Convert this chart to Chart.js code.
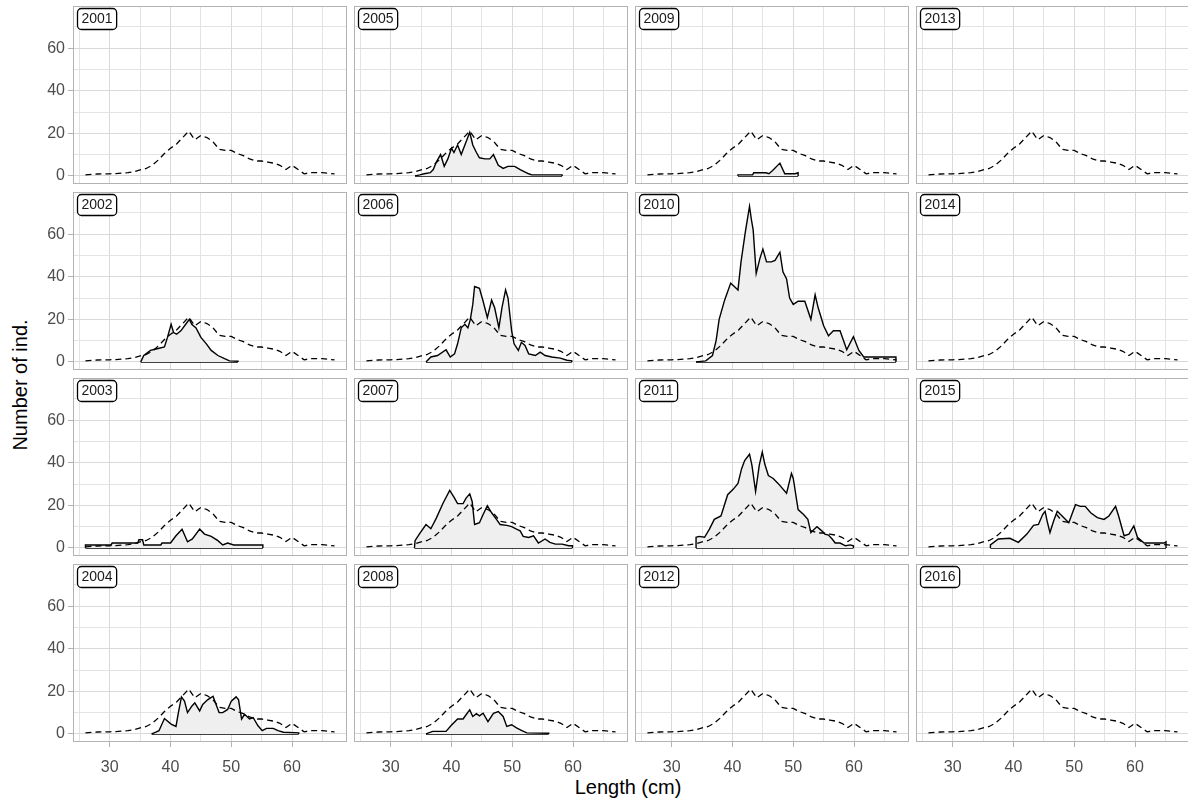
<!DOCTYPE html>
<html>
<head>
<meta charset="utf-8">
<script src="https://cdn.jsdelivr.net/npm/chart.js@4.4.1/dist/chart.umd.min.js"></script>
<style>
html,body{margin:0;padding:0;background:#fff;width:1188px;height:800px;overflow:hidden;}
body{position:relative;font-family:"Liberation Sans",Arial,sans-serif;}
.title{position:absolute;color:#000;font-size:20px;line-height:24px;white-space:nowrap;}
.wrap{position:absolute;overflow:hidden;}
</style>
</head>
<body>
<div class="title" id="xtitle" style="left:528px;width:200px;top:775px;text-align:center;">Length (cm)</div>
<div class="title" id="ytitle" style="left:20px;top:385px;transform:translate(-50%,-50%) rotate(-90deg);">Number of ind.</div>
<script>
// ---------- DATA ----------
const panelYears = [2001,2002,2003,2004,2005,2006,2007,2008,2009,2010,2011,2012,2013,2014,2015,2016];
const xTickValues = [25,30,35,40,45,50,55,60,65];
const yTickValues = [0,10,20,30,40,50,60,70];

// dashed reference distribution (same in every panel)
const refLength = [26,27,28,29,30,31,32,33,34,35,36,37,38,39,40,41,42,43,44,45,46,47,48,49,50,51,52,53,54,55,56,57,58,59,60,61,62,63,64,65,66,67];
const refCount  = [0.5,0.7,0.9,1,1,1.1,1.3,1.5,2,2.8,3.5,5,7.5,10.5,13,15,18,21,17,19,18,16,12.5,12,12,10.5,9.5,8,7,7,6.5,6,5,3,5,3,1,1.5,1.5,1.5,1.2,1];

const len2001 = [], num2001 = [];
const len2002 = [35.1,35.6,36.7,37.8,39,39.5,40.1,40.5,41,41.7,42.5,43.1,43.5,44.2,45,45.9,46.7,47.8,48.9,49.7,51.1];
const num2002 = [0,3,5.4,6.2,7,11.5,17.7,13.8,13,14.6,17.7,20,17.7,16,11.5,8.5,5.4,3,1.5,0.5,0.3];
const len2003 = [26,30.2,30.4,34.6,34.8,35.4,35.6,38.4,38.6,40,40.9,41.9,42.8,43.6,44.8,45.6,46.7,47.8,48.6,49.4,50.4,55.2];
const num2003 = [1.4,1.4,2.3,2.3,3.8,3.8,1.4,1.4,2.3,2.3,5.7,8.8,2.9,4.2,8.8,6.5,5.4,3.4,1.4,2.3,1.4,1.4];
const len2004 = [36.9,37.6,38.1,39,40.1,40.9,41.3,41.8,42.3,42.8,43.5,44,44.8,45.3,46.1,47,47.5,48,48.6,49.4,50,50.8,51.2,51.7,52.2,53,53.6,54.4,55.1,55.8,56.9,57.7,58.6,61.1];
const num2004 = [0,0.8,1.5,7.2,4.6,3.5,10,17.4,15.4,10,13,14.6,10.8,13.8,16,17.7,13.8,10,10,11.5,15.4,17.4,16,7,9.2,7,7.7,3.8,1.5,2.6,2.6,1.5,0.8,0.5];
const len2005 = [34,34.8,35.5,36.5,37,37.5,38.2,38.8,39.4,40,40.4,41,41.6,42.2,43,43.5,44.1,44.6,45.5,46.3,46.9,47.7,48.5,49.3,50.4,51.3,52.7,53.2,58.2];
const num2005 = [0,0.5,1,1.5,3,6.5,10,4.5,8,13,11,14.5,10,14.5,20.5,14.5,11,8.5,8,8,10,5,3.5,4.5,4.5,3,1,0.5,0.5];
const len2006 = [35.8,36.6,37.7,39.1,39.8,40.5,41,41.6,42.2,42.7,43.1,43.5,43.8,44.6,45.2,45.9,46.6,47.1,47.8,48.3,48.9,49.3,49.9,50.3,51,51.5,52.1,52.7,53.8,54.6,55.4,56.5,57.9,59,59.8];
const num2006 = [0,2.3,3,5.7,2.3,3.8,8.5,16,17.7,16,20,27,35.4,34.6,28.5,20.8,29,25.4,16,25.4,33.8,30,14.6,8.5,5.4,9.2,7.7,3.8,3,4.6,3,2.3,1.8,0.8,0.5];
const len2007 = [33.9,34,34.7,35.8,36.6,37.5,38.6,39.7,40.5,41,41.9,42.4,43,43.4,43.8,44.6,45.2,45.9,46.6,47.4,48,49.1,49.9,50.7,51.3,51.8,52.7,53.5,54.3,55.4,56.2,57.1,58.2,59.3,59.9];
const num2007 = [0,3.4,6.5,11,9,14,21,27,23.4,20.8,20.8,23.4,25.4,21.8,11,11.8,15.7,19.8,16.5,13.4,11,10.6,10,8.8,8,5.4,4.9,5.7,2.3,4.2,2.6,1.8,1.8,1,1];
const len2008 = [35.8,36.9,39.1,39.9,41,41.9,42.4,43,43.5,44.1,44.6,45.2,46,46.9,47.7,48.5,49.1,49.9,50.7,51.5,52.4,56];
const num2008 = [0,1.2,1.2,3.8,7,7,9,11.3,8.2,9.5,8.5,9.7,5.8,9.7,10.5,8.2,3.5,4.3,2.8,1.7,0.5,0.3];
const len2009 = [40.9,43.3,43.5,45.5,46,46.6,47.8,48.6,50.3,50.8];
const num2009 = [0.5,0.5,1.5,1.5,1,2.5,6,1,1,1.5];
const len2010 = [34,35.6,36.7,37.3,37.8,38.7,39.7,40.3,40.9,41.4,42.1,42.8,43.1,43.4,43.9,44.5,45,45.6,46.4,47,47.8,48.3,48.9,49.4,50,50.8,51.9,52.9,53.6,54.1,55,55.8,56.6,57.7,58.8,59.9,60.8,61.6,66.9];
const num2010 = [0,0.5,3,10,20,29,37,35.4,33.8,47,60.8,73,67,62,41.5,48.5,53,47,47,47.7,51.5,42.3,39,30,27,28.5,28.5,20,31.5,25.4,17,12.3,14.6,14.6,5.7,11.8,5.4,2.3,2.3];
const len2011 = [34,34.5,35.4,36.2,37,38.1,39.2,40.1,40.9,41.5,42,42.8,43.2,43.8,44.4,44.9,45.3,45.9,46.7,47.5,48.9,49.7,50,50.8,51.7,52.4,52.9,53.9,54.7,55.2,55.8,56.4,56.9,57.7,58.6,59.4,59.9];
const num2011 = [5,5.4,5,8.8,13.4,15,25,27.5,30.3,37.2,41,44,38.8,26.5,38.8,45,39.5,34,32.6,30.3,25.7,35,32.6,18,15.7,13.4,7.2,10,8,6.5,6,4.2,2.3,2.3,1,1.4,1];
const len2012 = [], num2012 = [];
const len2013 = [], num2013 = [];
const len2014 = [], num2014 = [];
const len2015 = [36.2,37.5,39.4,40.8,42.2,43.3,44.1,44.8,45.2,45.6,46,46.6,47.2,48,49.1,50.2,51,51.8,52.7,53.8,54.9,55.7,56.8,57.3,58.2,59,59.8,60.4,61.5,64.8,65.1];
const num2015 = [1.4,4.2,4.5,2.6,6.5,10.6,11,15.7,17.2,11.8,7.2,12.6,17.2,15,11.8,20.3,19.5,19.5,16.5,14.2,13.4,15,19.5,15,5.7,6.5,10.3,5,2.3,2.3,2.9];
const len2016 = [], num2016 = [];

const yearData = {
  2001:[len2001,num2001],2002:[len2002,num2002],2003:[len2003,num2003],2004:[len2004,num2004],
  2005:[len2005,num2005],2006:[len2006,num2006],2007:[len2007,num2007],2008:[len2008,num2008],
  2009:[len2009,num2009],2010:[len2010,num2010],2011:[len2011,num2011],2012:[len2012,num2012],
  2013:[len2013,num2013],2014:[len2014,num2014],2015:[len2015,num2015],2016:[len2016,num2016]
};

// ---------- LAYOUT ----------
const PAGE_W = 1188;
const PW = 274, PH = 178;
const colLeft = [73, 354, 635, 916];
const rowTop = [6, 192, 378, 564];
const yAxisW = 60, xAxisH = 45;
const X_MIN = 23.95, X_MAX = 69.05, Y_MIN = -3.8, Y_MAX = 79.8;
const FONT = '"Liberation Sans", Arial, sans-serif';

const panelDecor = {
  id: 'panelDecor',
  afterDatasetsDraw(chart) {
    const {ctx, chartArea: a} = chart;
    ctx.save();
    ctx.strokeStyle = '#b3b3b3';
    ctx.lineWidth = 1;
    ctx.strokeRect(a.left + 0.5, a.top + 0.5, a.right - a.left - 1, a.bottom - a.top - 1);
    ctx.restore();
  },
  afterDraw(chart, args, opts) {
    const {ctx, chartArea: a} = chart;
    ctx.save();
    ctx.font = '14px ' + FONT;
    const tw = ctx.measureText(opts.text).width;
    const x = a.left + 4, y = a.top + 2, w = tw + 8, h = 21;
    ctx.beginPath();
    ctx.roundRect(x + 0.5, y + 0.5, w, h, 4);
    ctx.fillStyle = '#fff';
    ctx.fill();
    ctx.lineWidth = 1.3;
    ctx.strokeStyle = '#000';
    ctx.stroke();
    ctx.fillStyle = '#1a1a1a';
    ctx.textBaseline = 'middle';
    ctx.fillText(opts.text, x + 4.5, y + h / 2 + 1);
    ctx.restore();
  }
};

function makePanel(year, col, row) {
  const showY = col === 0, showX = row === 3;
  const wy = showY ? yAxisW : 0, hx = showX ? xAxisH : 0;
  const left = colLeft[col] - wy, top = rowTop[row];
  const cw = PW + wy, ch = PH + hx;
  const wrap = document.createElement('div');
  wrap.className = 'wrap';
  wrap.style.cssText = `left:${left}px;top:${top}px;width:${Math.min(cw, PAGE_W - left)}px;height:${ch}px;`;
  const cv = document.createElement('canvas');
  cv.width = cw; cv.height = ch;
  cv.style.cssText = `display:block;width:${cw}px;height:${ch}px;`;
  wrap.appendChild(cv);
  document.body.appendChild(wrap);

  const [lens, nums] = yearData[year];
  const datasets = [{
    data: refLength.map((x, k) => ({x, y: refCount[k]})),
    borderColor: '#000', borderWidth: 1.3, borderDash: [6, 4],
    fill: false, pointRadius: 0, order: 0
  }];
  if (lens.length) {
    const pts = [{x: lens[0], y: 0}].concat(lens.map((x, k) => ({x, y: nums[k]})), [{x: lens[lens.length-1], y: 0}]);
    datasets.push({
      data: pts, borderColor: '#000', borderWidth: 1.4,
      backgroundColor: '#efefef', fill: 'origin', pointRadius: 0, order: 1
    });
    datasets.push({
      data: [{x: lens[0], y: 0}, {x: lens[lens.length-1], y: 0}],
      borderColor: '#000', borderWidth: 1.5, fill: false, pointRadius: 0, order: 1
    });
  }

  const gridColor = c => (c.tick && c.tick.value % (c.scale.axis === 'x' ? 10 : 20) === 0) ? '#d9d9d9' : '#e3e3e3';
  new Chart(cv, {
    type: 'line',
    data: {datasets},
    plugins: [panelDecor],
    options: {
      responsive: false, animation: false, devicePixelRatio: 1,
      layout: {padding: 0},
      elements: {line: {tension: 0}, point: {radius: 0}},
      plugins: {legend: {display: false}, tooltip: {enabled: false}, panelDecor: {text: String(year)}},
      scales: {
        x: {
          type: 'linear', min: X_MIN, max: X_MAX,
          afterBuildTicks: s => { s.ticks = xTickValues.map(v => ({value: v})); },
          afterFit: s => { s.height = hx; s.paddingLeft = 0; s.paddingRight = 0; },
          ticks: {display: showX, autoSkip: false, maxRotation: 0, color: '#4d4d4d', padding: 11,
                  font: {size: 16, family: FONT}, callback: v => v % 10 === 0 ? String(v) : ''},
          grid: {color: gridColor, lineWidth: 1, drawTicks: showX, tickLength: 5, tickWidth: 1,
                 tickColor: c => (c.tick && c.tick.value % 10 === 0) ? '#b3b3b3' : 'rgba(0,0,0,0)'},
          border: {display: false}
        },
        y: {
          type: 'linear', min: Y_MIN, max: Y_MAX,
          afterBuildTicks: s => { s.ticks = yTickValues.map(v => ({value: v})); },
          afterFit: s => { s.width = wy; s.paddingTop = 0; s.paddingBottom = 0; },
          ticks: {display: showY, autoSkip: false, color: '#4d4d4d', padding: 3,
                  font: {size: 16, family: FONT}, callback: v => v % 20 === 0 ? String(v) : ''},
          grid: {color: gridColor, lineWidth: 1, drawTicks: showY, tickLength: 5, tickWidth: 1,
                 tickColor: c => (c.tick && c.tick.value % 20 === 0) ? '#b3b3b3' : 'rgba(0,0,0,0)'},
          border: {display: false}
        }
      }
    }
  });
}

panelYears.forEach((yr, i) => makePanel(yr, Math.floor(i / 4), i % 4));
</script>
</body>
</html>
